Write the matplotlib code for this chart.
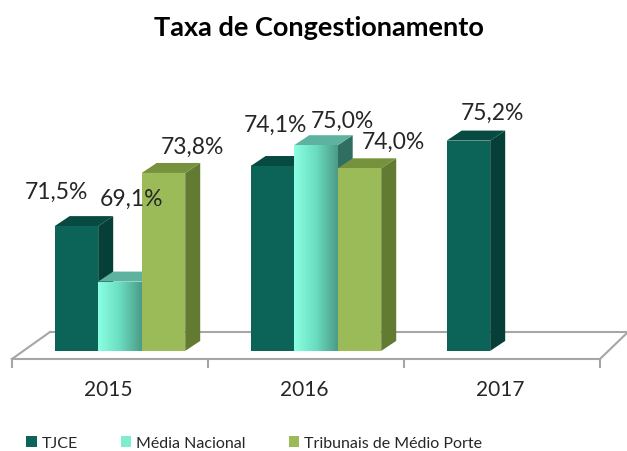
import numpy as np
import matplotlib
matplotlib.use("Agg")
import matplotlib.pyplot as plt
from matplotlib.patches import Polygon, Patch
from matplotlib.colors import LinearSegmentedColormap

plt.rcParams['font.family'] = ['Lato', 'DejaVu Sans']

# data
years = ["2015", "2016", "2017"]
series = ["TJCE", "Média Nacional", "Tribunais de Médio Porte"]
tjce = [71.5, 74.1, 75.2]
media_nacional = [69.1, 75.0, None]
tribunais = [73.8, 74.0, None]

# colours: front, top, side
colors = {
    "TJCE": ("#0C6459", "#074A41", "#053F37"),
    "Média Nacional": ("#7FFBD8", "#5DB39F", "#2F6E60"),
    "Tribunais de Médio Porte": ("#9BBB59", "#76923C", "#637A33"),
}
# label offsets in pixels from the top centre of each bar (Excel moves them around)
label_offsets = {
    ("TJCE", 0): (-20, 35), ("Média Nacional", 0): (12, 83), ("Tribunais de Médio Porte", 0): (29, 27),
    ("TJCE", 1): (3, 42), ("Média Nacional", 1): (26, 25), ("Tribunais de Médio Porte", 1): (34, 27),
    ("TJCE", 2): (24, 28),
}

base = 66.1
width = 0.222
dx, dy = 0.0765, 0.433  # fake depth

fig = plt.figure(figsize=(6.27, 4.52), dpi=100)
ax = fig.add_axes([0, 92 / 452, 1, 260 / 452])
ax.axis("off")

# floor
fl = 65.75
bk = fl + 27 / 23.1
floor_col = "#A6A6A6"
ax.plot([-0.551, 2.449], [fl, fl], color=floor_col, lw=1.5, clip_on=False, zorder=1)
ax.plot([-0.551, -0.357], [fl, bk], color=floor_col, lw=1.5, clip_on=False, zorder=1)
ax.plot([-0.357, 2.60], [bk, bk], color=floor_col, lw=1.5, clip_on=False, zorder=1)
ax.plot([2.449, 2.592], [fl, bk], color=floor_col, lw=1.5, clip_on=False, zorder=1)
for t in np.arange(4) - 0.551:
    ax.plot([t, t], [fl, fl - 0.35], color=floor_col, lw=1.5, clip_on=False, zorder=1)

grad = np.linspace(0, 1, 64).reshape(1, -1)
aqua = LinearSegmentedColormap.from_list("aqua", ["#8BFFE2", "#6ADDC0", "#4C9C88"])

z = 2
for i in range(len(years)):
    for j, (name, vals) in enumerate(zip(series, [tjce, media_nacional, tribunais])):
        v = vals[i]
        if v is None:
            continue
        front, top, side = colors[name]
        x0 = i + (j - 1) * width - width / 2
        x1 = x0 + width
        ax.add_patch(Polygon([(x1, base), (x1 + dx, base + dy), (x1 + dx, v + dy), (x1, v)],
                             closed=True, fc=side, ec="none", zorder=z))
        ax.add_patch(Polygon([(x0, v), (x0 + dx, v + dy), (x1 + dx, v + dy), (x1, v)],
                             closed=True, fc=top, ec="none", zorder=z))
        bar = ax.bar(x0, v - base, width=width, bottom=base, align="edge",
                     color=front, zorder=z + 0.5)[0]
        if name == "Média Nacional":
            im = ax.imshow(grad, cmap=aqua, aspect="auto", extent=(x0, x1, base, v),
                           zorder=z + 0.6)
            im.set_clip_path(bar)
        z += 1
        ox, oy = label_offsets[(name, i)]
        ax.annotate(f"{v:.1f}%".replace(".", ","), xy=(x0 + width / 2, v),
                    xytext=(ox, oy), textcoords="offset pixels", ha="center", va="center",
                    fontsize=16.5, color="#262626", zorder=20)

ax.set_xlim(-0.612, 2.587)
ax.set_ylim(65.75, 77.0)

for i, y in enumerate(years):
    ax.text(i - 0.06, fl - 30 / 23.1, y, ha="center", va="center", fontsize=15,
            color="#262626", clip_on=False)

fig.text(0.508, 1 - 28 / 452, "Taxa de Congestionamento", ha="center", va="center",
         fontsize=19.5, fontweight="bold", color="black")

handles = [Patch(facecolor=colors[n][0]) for n in series]
handles[1] = Patch(facecolor="#7FEBCF")
fig.legend(handles, series, ncol=3, loc="center", bbox_to_anchor=(0.405, 0.018),
           frameon=False, handlelength=0.65, handleheight=0.65, handletextpad=0.3,
           columnspacing=2.7, fontsize=11.5, labelcolor="#262626")

fig.savefig("out.png", dpi=100)
